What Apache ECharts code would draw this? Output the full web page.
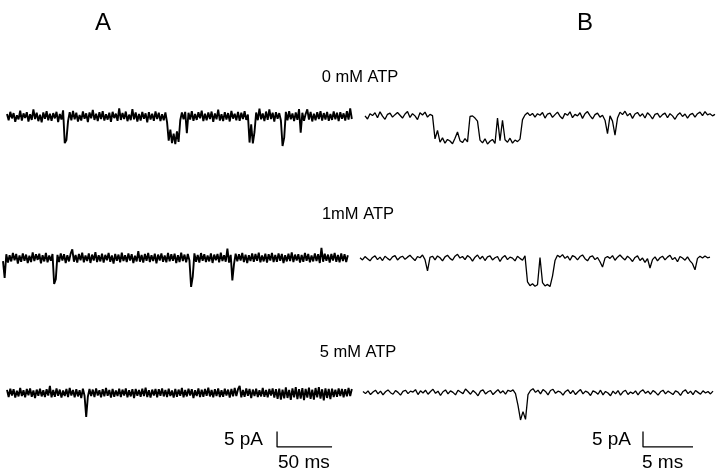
<!DOCTYPE html>
<html><head><meta charset="utf-8">
<script src="https://cdn.jsdelivr.net/npm/echarts/dist/echarts.min.js"></script>
<style>html,body{margin:0;padding:0;background:#fff}#c{width:720px;height:474px}</style>
</head><body><div id="c"></div>
<script>
// ---- data ----
const panelTitles = ['A', 'B'];
const conditions = ['0 mM ATP', '1mM ATP', '5 mM ATP'];
const dtA = 1.5;   // ms per sample, panel A
const dtB = 0.25;  // ms per sample, panel B

// Panel A, 0 mM ATP (pA)
const traceA0 = [
0.8,-1.2,1.5,-0.6,1.1,-1.7,0.4,-0.9,1.9,-1.3,
1.0,-0.5,1.4,-1.6,0.7,-1.1,2.3,-0.8,1.2,-1.5,
0.6,-1.9,1.3,-0.7,1.7,-1.2,0.9,-1.4,1.1,-0.6,
1.5,-1.8,0.8,-1.0,2.0,-8.6,-7.6,-1.5,1.4,-1.2,
1.8,-0.9,1.2,-1.6,0.5,-1.3,1.6,-0.7,1.0,-1.8,
1.3,-0.6,2.1,-1.1,0.9,-1.5,1.4,-0.8,1.7,-1.3,
0.7,-1.0,1.2,-1.7,1.5,-0.5,0.9,-1.4,2.6,-1.1,
1.1,-0.8,1.6,-1.5,0.6,-1.2,2.4,-0.9,1.3,-1.6,
0.8,-1.3,1.5,-0.7,1.0,-1.9,1.4,-1.0,0.9,-1.4,
1.6,-0.8,1.2,-1.5,0.7,-1.2,1.3,-1.8,-7.8,-4.2,
-8.6,-5.5,-8.9,-4.8,-8.2,-1.2,1.3,-0.9,1.5,-5.4,
1.2,-1.0,1.7,-1.4,0.8,-1.1,1.4,-0.6,1.9,-1.5,
0.9,-1.2,1.3,-0.8,1.6,-1.7,1.0,-0.9,2.2,-1.3,
0.7,-1.5,1.4,-1.0,1.1,-1.6,1.8,-0.7,0.9,-1.2,
1.5,-1.4,1.2,-0.8,1.7,-1.1,0.6,-8.4,-2.5,-8.7,
-5.0,1.3,-1.2,2.5,-0.9,1.0,-1.5,1.6,-1.1,2.3,
-0.8,1.2,-1.6,1.4,-0.7,1.1,-1.3,-9.5,-6.8,1.5,
-1.2,1.7,-0.9,1.0,-1.5,1.3,-1.1,2.4,-5.2,1.2,
-1.4,0.8,2.3,-1.0,1.5,-1.6,0.9,-1.2,1.4,-0.8,
1.7,-1.3,1.1,-1.0,1.5,-1.4,0.8,-1.1,1.6,-0.9,
1.2,-1.5,1.4,-0.7,1.0,-1.3,1.7,-1.0,2.6,-0.8
];
// Panel A, 1 mM ATP
const traceA1 = [
-1.0,-6.4,1.2,-1.5,0.9,-1.1,1.6,-0.7,1.3,-1.8,
0.8,-1.2,1.5,-0.9,1.1,-1.6,0.7,-1.3,1.8,-1.0,
1.2,-0.6,1.4,-1.7,0.9,-1.1,1.6,-1.4,0.8,-0.9,
1.3,-8.4,-6.8,1.0,-1.3,1.5,-0.8,1.2,-1.6,0.9,
-1.1,1.4,2.8,-1.2,1.0,-1.5,1.3,-0.7,1.7,-1.4,
0.8,-1.0,1.5,-1.6,1.1,-0.8,1.9,-1.3,0.9,-1.1,
1.4,-1.5,1.0,-0.7,1.6,-1.2,0.8,-1.8,1.3,-0.9,
1.1,-1.4,1.7,-1.0,0.9,-1.3,1.5,-0.8,1.2,-1.6,
0.7,-1.1,2.2,-1.2,1.0,-1.5,1.3,-0.9,1.6,-1.3,
0.9,-1.0,1.4,-1.7,1.1,-0.8,1.5,-1.2,0.8,-1.4,
1.6,-1.1,1.2,-0.9,1.4,-1.6,0.9,-1.3,1.7,-1.0,
1.1,-1.4,1.3,-0.8,-9.3,-6.0,1.5,-1.2,1.0,-1.5,
1.6,-0.9,1.2,-1.3,0.8,-1.1,1.5,-1.6,1.1,-0.7,
1.3,-1.4,1.7,-1.0,0.9,-1.2,3.0,-1.5,1.0,-7.2,
-2.0,1.4,-1.1,1.2,-0.8,1.6,-1.3,1.1,-1.6,0.9,
-1.0,1.5,-1.2,1.3,-0.9,1.7,-1.4,0.8,-1.1,1.4,
-1.5,1.2,-0.8,1.6,-1.3,1.0,-1.2,1.5,-0.9,1.3,
-1.6,0.9,-1.1,1.4,-1.0,1.8,-1.3,1.1,-0.8,1.2,
-1.5,1.0,-1.2,1.6,-0.9,1.3,-1.4,0.8,-1.1,1.5,
-1.0,1.2,-1.6,3.3,-1.2,1.4,-0.9,1.1,-1.5,1.3,
-0.8,1.6,-1.2,1.0,-1.4,1.5,-1.0,1.2,-1.3,0.9
];
// Panel A, 5 mM ATP
const traceA2 = [
1.0,-1.3,1.4,-0.8,1.2,-1.5,0.7,-1.1,1.6,-1.0,
0.9,-1.4,1.3,-0.7,1.5,-1.2,0.8,-1.6,1.1,-0.9,
1.4,-1.1,0.9,-1.3,1.2,-0.8,2.3,-1.4,1.0,-1.2,
1.5,-0.9,1.1,-1.5,0.8,-1.0,1.3,-1.3,1.6,-0.8,
1.0,-1.4,1.2,-1.1,0.9,-1.6,1.4,-0.9,-7.7,-1.2,
1.3,-1.0,1.1,-1.3,1.5,-0.8,0.9,-1.4,1.2,-1.1,
1.6,-0.9,1.0,-1.5,1.3,-1.2,0.8,-1.0,1.4,-1.3,
1.1,-0.8,1.5,-1.4,0.9,-1.1,1.2,-1.6,1.3,-0.9,
1.0,-1.2,1.4,-1.0,1.7,-1.3,0.9,-1.5,1.1,-0.8,
1.3,-1.4,1.2,-0.9,1.5,-1.1,1.0,-1.3,1.4,-1.0,
0.8,-1.5,1.3,-1.2,1.1,-0.9,1.6,-1.4,1.0,-1.1,
1.4,-0.8,1.2,-1.6,0.9,-1.0,1.5,-1.3,1.1,-1.2,
1.3,-0.9,1.7,-1.1,1.0,-1.4,1.2,-1.0,1.5,-1.3,
0.9,-1.2,1.4,-0.8,1.1,-1.5,1.3,-1.1,1.6,-1.0,
1.2,2.3,-1.4,1.0,-1.2,1.5,-0.9,1.3,-1.6,1.1,
-1.0,1.4,-1.3,0.9,-1.1,1.6,-1.2,1.0,-1.4,1.3,
-0.8,1.5,-1.5,1.2,-1.9,1.4,-2.1,1.1,-1.7,1.8,
-1.6,1.0,-2.2,1.5,-1.4,1.9,-2.0,1.2,-1.8,1.6,
-2.3,1.3,-1.5,1.7,-1.9,1.1,-2.1,1.6,-1.4,1.9,
-1.8,1.2,-2.4,1.5,-1.6,1.3,-2.0,1.4,-1.3,1.1,
-1.2,1.5,-1.0,1.3,-1.4,1.2,-1.1,1.6,-1.0,1.3
];
// Panel B, 0 mM ATP
const traceB0 = [
0.2,-0.8,0.9,0.3,1.2,-0.4,1.5,0.1,-0.9,0.7,
1.1,-0.2,0.6,1.3,0.4,-0.5,0.8,1.6,-0.3,0.9,
0.2,-1.0,1.2,0.5,1.4,-0.2,0.7,0.3,
-7.2,-4.5,-8.3,-6.9,-8.6,-7.4,-7.9,-8.8,-7.0,-5.0,-7.8,-8.4,-7.1,-8.2,
0.0,0.2,-0.5,-1.5,
-7.6,-8.5,-7.2,-8.9,-8.0,-7.4,-8.7,
-0.5,-7.8,-1.2,-7.5,
-8.3,-7.0,-8.6,-7.6,-8.1,-7.3,
-1.0,
0.5,1.2,0.3,1.0,-0.2,0.9,
0.4,1.3,-0.5,0.8,1.1,-0.3,0.6,1.4,0.1,-0.7,
1.0,0.4,1.5,-0.4,0.7,0.2,1.2,-0.6,0.9,1.6,
0.3,-0.8,0.6,1.1,-0.2,0.4,-1.2,-5.5,0.2,-1.5,
-6.0,-0.5,1.4,0.6,1.7,0.2,1.0,-0.6,0.8,1.3,
0.1,0.9,-0.5,1.2,0.4,-0.8,0.7,1.0,-0.3,0.6,
1.1,-0.4,0.9,0.2,-0.9,0.5,1.2,0.0,0.8,-0.5,
0.6,1.0,-0.2,0.9,1.4,0.3,1.6,0.5,0.9,0.2,
0.7
];
// Panel B, 1 mM ATP
const traceB1 = [
0.4,-0.3,0.8,0.1,-0.6,0.5,1.0,-0.2,0.6,-0.5,
0.9,0.2,-0.4,0.7,1.1,-0.3,0.5,0.9,-0.1,0.6,
1.2,0.3,-0.5,0.8,0.4,1.3,-0.2,-3.8,0.5,0.9,
-0.3,1.0,0.4,-0.6,0.7,1.2,0.2,-0.4,0.9,1.5,
0.3,0.8,-0.2,1.1,0.5,-0.7,0.6,1.3,0.0,0.9,
-0.5,0.7,1.0,-0.3,0.4,0.8,-0.8,0.5,1.1,-0.2,
0.6,0.3,-0.6,0.9,0.2,-0.4,1.0,
-7.4,-8.6,-8.0,-8.8,-8.3,0.5,-7.6,-8.7,-8.2,-8.9,-5.5,-0.5,
1.2,0.6,1.4,0.2,0.9,-0.4,1.1,0.7,-0.3,0.8,1.3,
0.1,-0.6,0.7,1.0,-0.2,0.5,-0.9,-2.6,0.3,0.8,
0.2,1.1,-0.4,0.6,1.3,0.4,-0.3,0.9,0.2,-0.8,
0.5,1.0,-0.5,0.3,-1.1,0.1,-2.9,-0.2,0.7,-0.6,
0.4,0.9,-0.3,0.6,1.2,-0.2,0.5,-0.9,0.8,0.3,
-0.4,0.7,-0.6,-1.5,-3.5,0.2,0.9,0.3,1.0,0.4,
0.6
];
// Panel B, 5 mM ATP
const traceB2 = [
0.5,-0.2,0.7,-0.5,0.3,0.9,-0.3,0.6,-0.6,0.4,
1.0,0.1,-0.4,0.8,0.2,-0.7,0.5,0.9,-0.2,0.6,
0.3,1.1,-0.5,0.7,0.0,0.9,-0.4,0.5,1.2,-0.1,
0.6,-0.8,0.4,1.0,-0.3,0.7,0.2,-0.6,0.9,0.3,
-0.2,1.3,0.5,-0.4,0.8,0.1,-0.9,0.6,1.0,-0.3,
0.4,0.8,-0.5,0.3,1.1,0.0,0.7,-0.4,0.9,0.5,
1.0,-0.2,-4.0,-8.7,-6.0,-8.5,-0.5,
0.8,1.4,0.2,0.9,-0.3,1.1,0.5,-0.6,0.8,1.2,-0.1,0.6,0.3,
-0.7,0.5,1.0,-0.2,0.8,-0.5,0.4,1.1,-0.3,0.6,
0.2,-0.8,0.7,0.3,-0.4,0.9,-0.6,0.5,0.0,-0.9,
0.6,-0.3,0.8,-0.7,0.4,0.9,-0.5,0.3,-0.2,0.7,
-0.6,0.5,1.0,-0.1,0.6,-0.4,0.8,0.2,-0.7,0.4,
0.9,-0.3,0.6,0.1,-0.5,0.7,0.3,-0.8,0.5,1.0,
-0.2,0.6,-0.5,0.8,0.2,-0.4,0.7,0.0,0.5,-0.3,
0.6
];
// scale bars
const scaleBarA = { pA: 5, ms: 50, label: ['5 pA', '50 ms'] };
const scaleBarB = { pA: 5, ms: 5, label: ['5 pA', '5 ms'] };

// ---- layout ----
const pxPerPA = 3.1;
const yTop = 4, yBot = -12, yBotLast = -20;
const layA = [{left: 7, base: 116.5}, {left: 3, base: 258}, {left: 7, base: 393}];
const layB = [{left: 365, base: 116.5}, {left: 360, base: 259}, {left: 363, base: 393}];
const spanA = {max: 315, pxPerMs: 1.1, lw: 1.9};
const spanB = {max: 35, pxPerMs: 10, lw: 1.3};
const barPosA = {x: 245.5, y: -17.4};
const barPosB = {x: 28, y: -17.4};

const tracesA = [traceA0, traceA1, traceA2];
const tracesB = [traceB0, traceB1, traceB2];

const grid = [], xAxis = [], yAxis = [], series = [];
function addPanel(lay, traces, dt, span, bar, barPos) {
  lay.forEach((l, r) => {
    const gi = grid.length;
    const bot = r === 2 ? yBotLast : yBot;
    grid.push({left: l.left, top: l.base - yTop * pxPerPA, width: span.max * span.pxPerMs,
      height: (yTop - bot) * pxPerPA, containLabel: false});
    xAxis.push({type: 'value', gridIndex: gi, min: 0, max: span.max, show: false});
    yAxis.push({type: 'value', gridIndex: gi, min: bot, max: yTop, show: false});
    series.push({type: 'line', xAxisIndex: gi, yAxisIndex: gi, showSymbol: false, silent: true,
      data: traces[r].map((v, i) => [i * dt, v]),
      lineStyle: {color: '#000', width: span.lw, join: 'bevel'}, animation: false});
    if (r === 2) {
      series.push({type: 'line', xAxisIndex: gi, yAxisIndex: gi, showSymbol: false, silent: true,
        data: [[barPos.x, barPos.y + bar.pA], [barPos.x, barPos.y], [barPos.x + bar.ms, barPos.y]],
        lineStyle: {color: '#000', width: 1.3}, animation: false});
    }
  });
}
addPanel(layA, tracesA, dtA, spanA, scaleBarA, barPosA);
addPanel(layB, tracesB, dtB, spanB, scaleBarB, barPosB);

const FONT = '"Liberation Sans", Arial, sans-serif';
function txt(text, x, y, size, align) {
  return {type: 'text', x: x, y: y, silent: true,
    style: {text: text, font: size + 'px ' + FONT, fill: '#000', align: align, verticalAlign: 'middle'}};
}
const graphic = [
  txt(panelTitles[0], 103, 23, 24, 'center'),
  txt(panelTitles[1], 585, 23, 24, 'center'),
  txt(conditions[0], 360, 77, 16.5, 'center'),
  txt(conditions[1], 358, 214, 16.5, 'center'),
  txt(conditions[2], 358, 352, 16.5, 'center'),
  txt(scaleBarA.label[0], 263, 440, 19, 'right'),
  txt(scaleBarA.label[1], 278, 463, 19, 'left'),
  txt(scaleBarB.label[0], 631, 440, 19, 'right'),
  txt(scaleBarB.label[1], 642, 463, 19, 'left')
];

const chart = echarts.init(document.getElementById('c'), null, {renderer: 'canvas'});
chart.setOption({backgroundColor: '#fff', animation: false, grid, xAxis, yAxis, series, graphic});
</script></body></html>
